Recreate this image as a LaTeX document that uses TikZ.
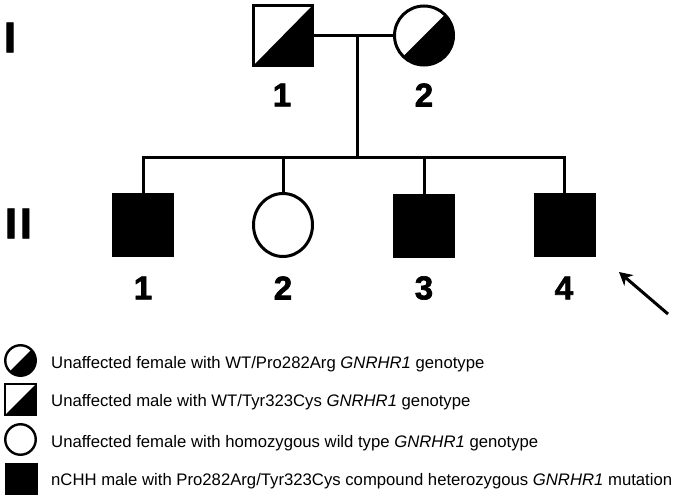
\documentclass[tikz,border=0pt]{standalone}
\usepackage{fontspec}
\setmainfont{Liberation Sans}
\newfontfamily\heavyfont{Liberation Sans}[BoldFeatures={FakeBold=2}]
\usetikzlibrary{arrows.meta,shapes.geometric}
\tikzset{
  sym/.style={draw, line width=3pt, inner sep=0pt},
  malesym/.style={sym, rectangle, minimum width=59pt, minimum height=60pt},
  femalesym/.style={sym, ellipse, minimum width=59pt, minimum height=60pt},
  affected/.style={fill=black},
  carrier/.style={path picture={\fill[black] (path picture bounding box.south west) -- (path picture bounding box.north east) -- (path picture bounding box.south east) -- cycle;}},
  legsym/.style={line width=2.4pt, minimum width=30.5pt, minimum height=30.5pt},
  numlabel/.style={font=\heavyfont\bfseries\fontsize{33}{33}\selectfont, inner sep=0pt},
  genlabel/.style={font=\heavyfont\bfseries\fontsize{43}{43}\selectfont, inner sep=0pt},
  legtext/.style={font=\fontsize{16.7}{18}\selectfont, inner sep=0pt, anchor=base west},
  pline/.style={line width=3pt},
}
\begin{document}
\begin{tikzpicture}[x=1pt,y=-1pt]
\useasboundingbox (0,0) rectangle (675,500);
% generation I
\node[malesym, carrier] (I1) at (283,35.5) {};
\node[femalesym, carrier, minimum height=59pt] (I2) at (424,35.5) {};
\node[numlabel] (n11) at (282,95) {1};
\node[numlabel] (n12) at (424,95) {2};
% generation II
\node[malesym, affected] (II1) at (143,225) {};
\node[femalesym, minimum height=63pt] (II2) at (283,225) {};
\node[malesym, affected] (II3) at (424,226) {};
\node[malesym, affected] (II4) at (564.5,225) {};
\node[numlabel] (n21) at (143,288) {1};
\node[numlabel] (n22) at (283,288) {2};
\node[numlabel] (n23) at (424,288) {3};
\node[numlabel] (n24) at (564,288) {4};
% generation labels
\node[genlabel] (g1) at (10,37.5) {I};
\node[genlabel] (g2) at (18.5,223.5) {I\hspace{3pt}I};
% lines
\coordinate (m) at (357,35.5);
\coordinate (s) at (357,158);
\draw[pline] (I1.east) -- (I2.west);
\draw[pline] (m) -- (s);
\draw[pline] (II1.north) -- (II1.north |- s) -- (II4.north |- s) -- (II4.north);
\draw[pline] (II2.north) -- (II2.north |- s);
\draw[pline] (II3.north) -- (II3.north |- s);
% proband arrow
\coordinate (atail) at (668,314);
\coordinate (ahead) at (619,272);
\draw[line width=3pt, -{Stealth[length=13pt,width=14pt,inset=4pt]}] (atail) -- (ahead);
% legend
\node[femalesym, carrier, legsym] (L1) at (20.5,360.5) {};
\node[malesym, carrier, legsym] (L2) at (20.5,399.5) {};
\node[femalesym, legsym] (L3) at (20.5,439.5) {};
\node[malesym, affected, legsym] (L4) at (21.5,479) {};
\node[legtext] (t1) at (51,368) {Unaffected female with WT/Pro282Arg \textit{GNRHR1} genotype};
\node[legtext] (t2) at (51,406) {Unaffected male with WT/Tyr323Cys \textit{GNRHR1} genotype};
\node[legtext] (t3) at (51,447) {Unaffected female with homozygous wild type \textit{GNRHR1} genotype};
\node[legtext] (t4) at (51,485) {nCHH male with Pro282Arg/Tyr323Cys compound heterozygous \textit{GNRHR1} mutation};
\end{tikzpicture}
\end{document}
